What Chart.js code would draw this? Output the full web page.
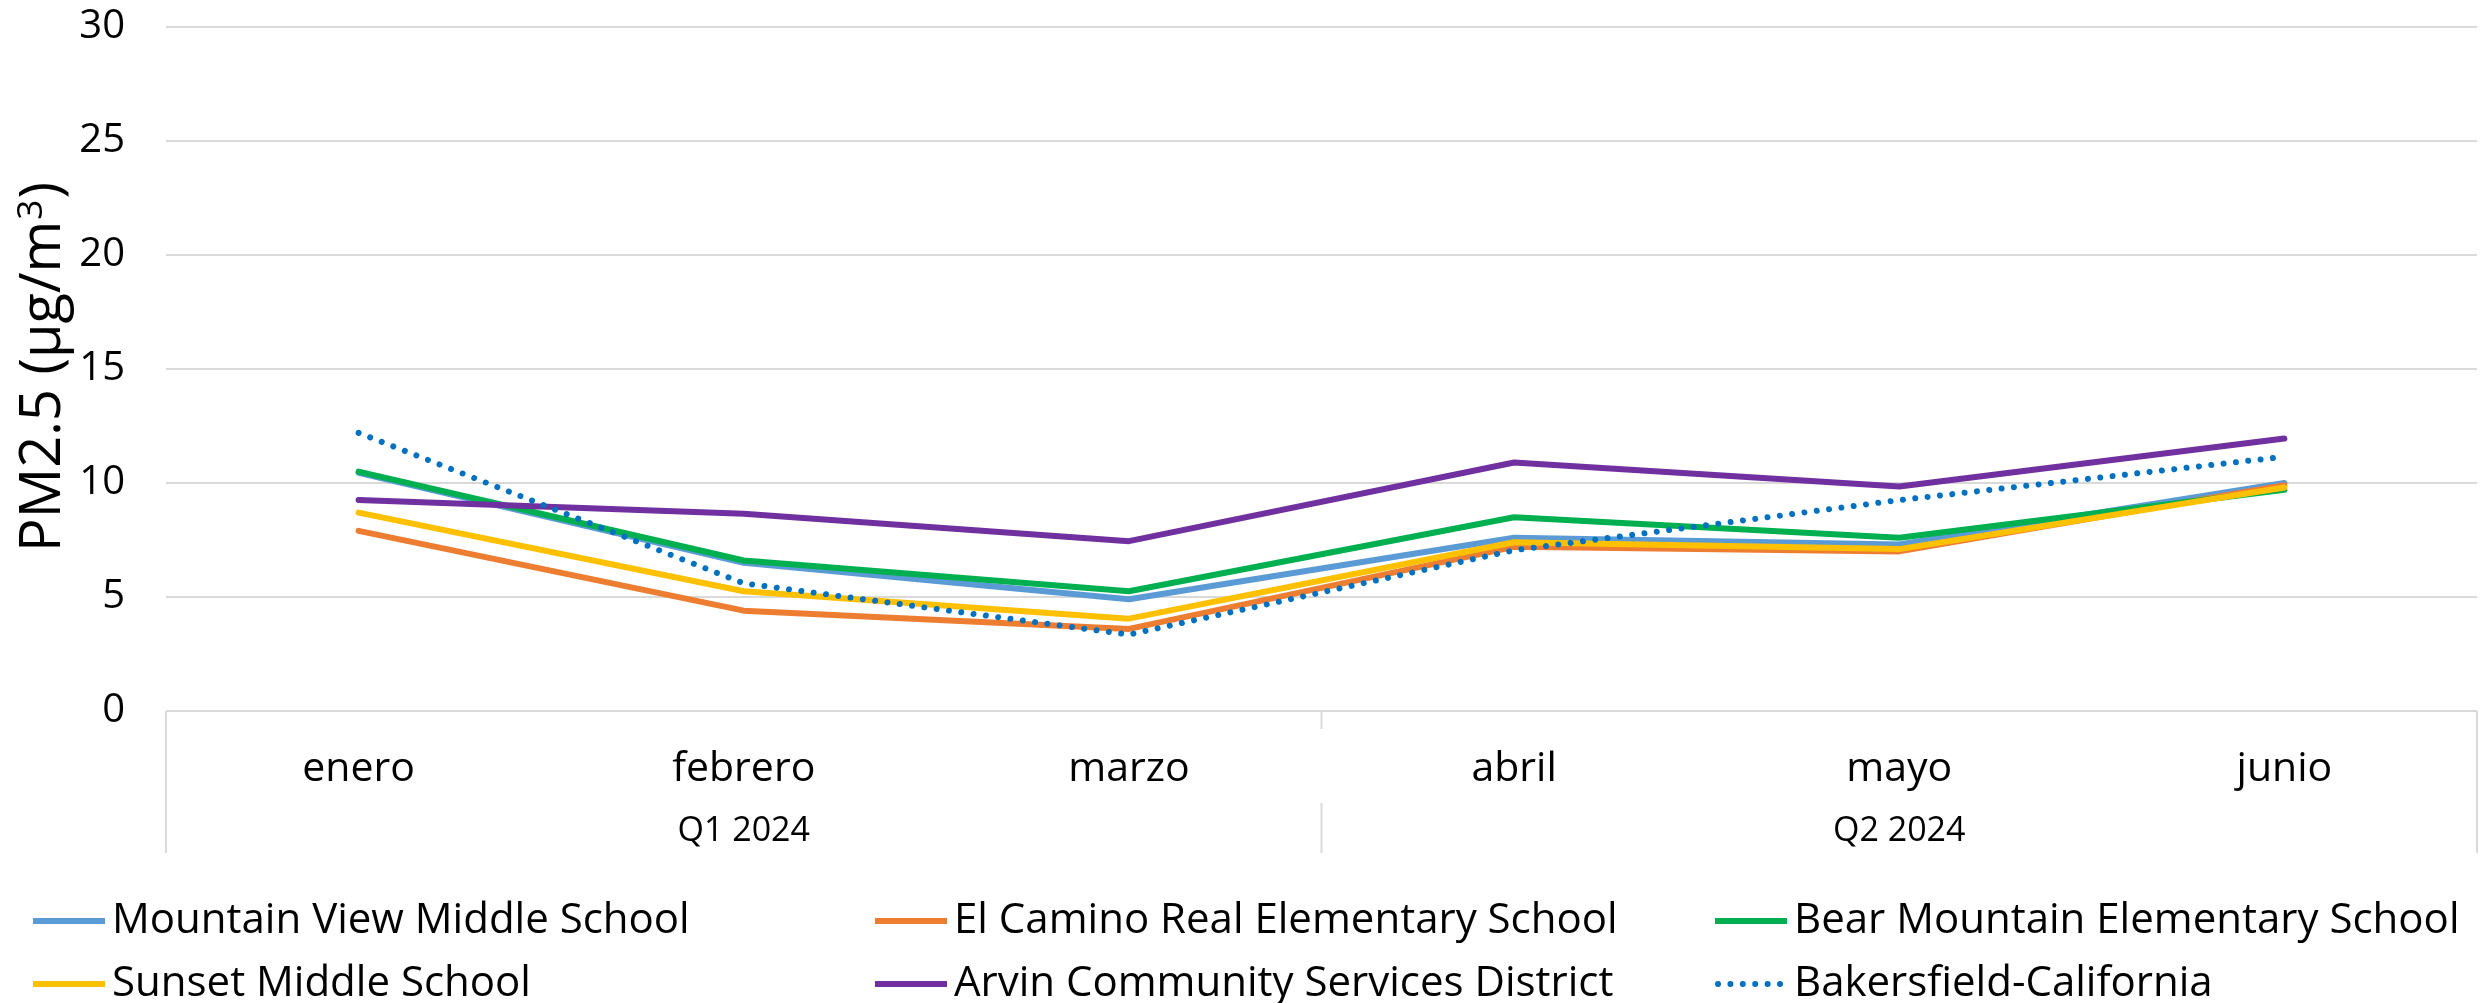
<!DOCTYPE html>
<html>
<head>
<meta charset="utf-8">
<script src="https://cdn.jsdelivr.net/npm/chart.js@4"></script>
<style>
html,body{margin:0;padding:0;background:#fff;overflow:hidden}
#wrap{width:2484px;height:1003px;position:relative}
</style>
</head>
<body>
<div id="wrap"><canvas id="c" width="2484" height="1003"></canvas></div>
<script>
// ---- data ----
const months = ['enero', 'febrero', 'marzo', 'abril', 'mayo', 'junio'];
const quarters = ['Q1 2024', 'Q2 2024'];
const yTicks = [0, 5, 10, 15, 20, 25, 30];
const seriesNames = [
  'Mountain View Middle School',
  'El Camino Real Elementary School',
  'Bear Mountain Elementary School',
  'Sunset Middle School',
  'Arvin Community Services District',
  'Bakersfield-California'
];
const mountainView = [10.45, 6.5, 4.9, 7.6, 7.3, 10.0];
const elCamino     = [7.9, 4.4, 3.6, 7.2, 7.0, 9.9];
const bearMountain = [10.5, 6.6, 5.25, 8.5, 7.6, 9.7];
const sunset       = [8.7, 5.25, 4.05, 7.4, 7.1, 9.8];
const arvin        = [9.25, 8.65, 7.45, 10.9, 9.85, 11.95];
const bakersfield  = [12.2, 5.6, 3.35, 7.05, 9.25, 11.15];
const yTitle = 'PM2.5 (µg/m';
const yTitleSup = '3';

// ---- styles ----
const FONT = "'Open Sans', sans-serif";
Chart.defaults.font.family = FONT;

const allValues = [mountainView, elCamino, bearMountain, sunset, arvin, bakersfield];
const colors = ['#5B9BD5', '#ED7D31', '#00B050', '#FFC000', '#7030A0', '#0070C0'];

const datasets = allValues.map((vals, i) => ({
  label: seriesNames[i],
  data: vals,
  borderColor: colors[i],
  backgroundColor: colors[i],
  borderWidth: 6,
  borderCapStyle: 'round',
  borderJoinStyle: 'round',
  borderDash: i === 5 ? [0.01, 12.4] : [],
  pointRadius: 0,
  pointHoverRadius: 0,
  tension: 0,
  fill: false,
  xAxisID: 'x',
  order: 5 - i
}));

const legendCols = [33, 875, 1715];
const legendRows = [921, 984];

const decor = {
  id: 'decor',
  afterDraw(chart) {
    const ctx = chart.ctx, a = chart.chartArea;
    const xs = chart.scales.x, q = chart.scales.x2;
    ctx.save();
    // category group separators
    ctx.strokeStyle = '#d9d9d9';
    ctx.lineWidth = 2;
    ctx.setLineDash([]);
    const seg = (x, y0, y1) => { ctx.beginPath(); ctx.moveTo(x, y0); ctx.lineTo(x, y1); ctx.stroke(); };
    const mid = (xs.getPixelForTick(2) + xs.getPixelForTick(3)) / 2;
    seg(a.left, a.bottom, q.bottom);
    seg(a.right, a.bottom, q.bottom);
    seg(mid, a.bottom, a.bottom + 18);
    seg(mid, q.top + 2, q.bottom);

    // y axis title with superscript
    ctx.fillStyle = '#000';
    ctx.font = '56px ' + FONT;
    const w1 = ctx.measureText(yTitle).width;
    const w3 = ctx.measureText(')').width;
    ctx.font = '35px ' + FONT;
    const ws = ctx.measureText(yTitleSup).width;
    const W = w1 + ws + w3 + 2;
    const cy = 367;
    ctx.save();
    ctx.translate(60, cy + W / 2);
    ctx.rotate(-Math.PI / 2);
    ctx.textBaseline = 'alphabetic';
    ctx.textAlign = 'left';
    ctx.font = '56px ' + FONT;
    ctx.fillText(yTitle, 0, 0);
    ctx.font = '35px ' + FONT;
    ctx.fillText(yTitleSup, w1 + 1, -18);
    ctx.font = '56px ' + FONT;
    ctx.fillText(')', w1 + ws + 2, 0);
    ctx.restore();

    // legend
    chart.data.datasets.forEach((ds, i) => {
      const x0 = legendCols[i % 3];
      const y = legendRows[Math.floor(i / 3)];
      ctx.strokeStyle = ds.borderColor;
      ctx.lineWidth = 6;
      if (ds.borderDash && ds.borderDash.length) {
        ctx.lineCap = 'round';
        ctx.setLineDash(ds.borderDash);
        ctx.beginPath(); ctx.moveTo(x0 + 3, y); ctx.lineTo(x0 + 70, y); ctx.stroke();
      } else {
        ctx.lineCap = 'butt';
        ctx.setLineDash([]);
        ctx.beginPath(); ctx.moveTo(x0, y); ctx.lineTo(x0 + 72, y); ctx.stroke();
      }
      ctx.setLineDash([]);
      ctx.fillStyle = '#000';
      ctx.font = '42px ' + FONT;
      ctx.textBaseline = 'middle';
      ctx.textAlign = 'left';
      ctx.fillText(ds.label, x0 + 79, y);
    });
    ctx.restore();
  }
};

new Chart(document.getElementById('c'), {
  type: 'line',
  data: { labels: months, datasets },
  options: {
    responsive: false,
    devicePixelRatio: 1,
    animation: false,
    events: [],
    layout: { padding: { top: 27, right: 7, bottom: 150, left: 0 } },
    plugins: { legend: { display: false }, tooltip: { enabled: false }, title: { display: false } },
    scales: {
      x: {
        type: 'category',
        position: 'bottom',
        offset: true,
        grid: { display: false, drawTicks: false },
        border: { display: false },
        ticks: { color: '#000', font: { size: 41 }, padding: 34, maxRotation: 0, autoSkip: false },
        afterFit(s) { s.height = 90; }
      },
      x2: {
        type: 'category',
        position: 'bottom',
        labels: quarters,
        offset: true,
        grid: { display: false, drawTicks: false },
        border: { display: false },
        ticks: { color: '#000', font: { size: 34 }, padding: 10, maxRotation: 0, autoSkip: false },
        afterFit(s) { s.height = 52; }
      },
      y: {
        min: 0,
        max: 30,
        afterBuildTicks(s) { s.ticks = yTicks.map(v => ({ value: v })); },
        ticks: { color: '#000', font: { size: 40 }, padding: 41 },
        grid: { color: '#d9d9d9', lineWidth: 2, drawTicks: false },
        border: { display: false },
        afterFit(s) { s.width = 166; s.paddingTop = 0; s.paddingBottom = 0; }
      }
    }
  },
  plugins: [decor]
});
</script>
</body>
</html>
